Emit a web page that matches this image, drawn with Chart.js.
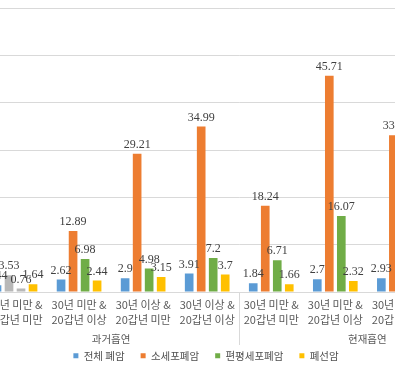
<!DOCTYPE html>
<html><head><meta charset="utf-8">
<script src="https://cdn.jsdelivr.net/npm/chart.js@4.4.1/dist/chart.umd.min.js"></script>
<style>
html,body{margin:0;padding:0;width:395px;height:367px;overflow:hidden;background:#fff;}
#wrap{position:absolute;left:-85px;top:0;width:582px;height:371px;}
</style></head><body>
<div id="wrap"><canvas id="c" width="582" height="371"></canvas></div>
<script>
const categories = [
  ["30년 미만 &", "20갑년 미만"],
  ["30년 미만 &", "20갑년 이상"],
  ["30년 이상 &", "20갑년 미만"],
  ["30년 이상 &", "20갑년 이상"],
  ["30년 미만 &", "20갑년 미만"],
  ["30년 미만 &", "20갑년 이상"],
  ["30년 이상 &", "20갑년 미만"],
  ["30년 이상 &", "20갑년 이상"]
];
const groups = ["과거흡연", "현재흡연"];
const groupSizes = [4, 4];
const seriesNames = ["전체 폐암", "소세포폐암", "편평세포폐암", "폐선암"];
const totalLung = [1.44, 2.62, 2.9, 3.91, 1.84, 2.7, 2.93, 3.6];
const smallCell = [3.53, 12.89, 29.21, 34.99, 18.24, 45.71, 33.1, 40.5];
const squamous = [0.76, 6.98, 4.98, 7.2, 6.71, 16.07, 11.6, 14.2];
const adeno = [1.64, 2.44, 3.15, 3.7, 1.66, 2.32, 3.1, 3.5];
const yTicks = [0, 10, 20, 30, 40, 50, 60];

const COLORS = ['#5B9BD5', '#ED7D31', '#70AD47', '#FFC000'];
const GREY = '#B8B8B8';
const KFONT = '"Noto Sans CJK KR", "Noto Sans", sans-serif';

const valueLabels = {
  id: 'valueLabels',
  afterDatasetsDraw(chart) {
    const ctx = chart.ctx;
    ctx.save();
    ctx.font = '12px "Liberation Serif", "DejaVu Serif", serif';
    ctx.fillStyle = '#404040';
    ctx.textAlign = 'center';
    ctx.textBaseline = 'bottom';
    chart.data.datasets.forEach((ds, i) => {
      chart.getDatasetMeta(i).data.forEach((bar, j) => {
        ctx.fillText(String(ds.data[j]), bar.x, bar.y - 3);
      });
    });
    ctx.restore();
  }
};

const groupAxis = {
  id: 'groupAxis',
  afterDraw(chart) {
    const ctx = chart.ctx, xs = chart.scales.x, area = chart.chartArea;
    const half = (xs.getPixelForValue(1) - xs.getPixelForValue(0)) / 2;
    ctx.save();
    ctx.strokeStyle = '#D9D9D9';
    ctx.lineWidth = 1;
    ctx.fillStyle = '#595959';
    ctx.font = '10.5px ' + KFONT;
    ctx.textAlign = 'center';
    ctx.textBaseline = 'middle';
    let start = 0;
    const seps = [];
    groups.forEach((g, gi) => {
      const end = start + groupSizes[gi] - 1;
      const cx = (xs.getPixelForValue(start) + xs.getPixelForValue(end)) / 2;
      ctx.fillText(g, cx, area.bottom + 47);
      seps.push(xs.getPixelForValue(start) - half);
      seps.push(xs.getPixelForValue(end) + half);
      start = end + 1;
    });
    [...new Set(seps.map(v => Math.round(v)))].forEach(x => {
      ctx.beginPath();
      ctx.moveTo(x + 0.5, area.bottom);
      ctx.lineTo(x + 0.5, area.bottom + 53);
      ctx.stroke();
    });
    ctx.restore();
  }
};

const greyFirst = base => c => (c.type === 'data' && c.dataIndex === 0) ? GREY : base;

new Chart(document.getElementById('c'), {
  type: 'bar',
  data: {
    labels: categories,
    datasets: [
      { label: seriesNames[0], data: totalLung, backgroundColor: COLORS[0] },
      { label: seriesNames[1], data: smallCell, backgroundColor: greyFirst(COLORS[1]) },
      { label: seriesNames[2], data: squamous, backgroundColor: greyFirst(COLORS[2]) },
      { label: seriesNames[3], data: adeno, backgroundColor: COLORS[3] }
    ]
  },
  options: {
    responsive: false,
    animation: false,
    devicePixelRatio: 1,
    layout: { padding: { top: 8, left: 0, right: 0, bottom: 0 } },
    datasets: { bar: { categoryPercentage: 0.75, barPercentage: 0.72 } },
    scales: {
      x: {
        grid: { display: false, drawTicks: false },
        border: { display: true, color: '#D9D9D9' },
        ticks: {
          autoSkip: false, maxRotation: 0, minRotation: 0, padding: 6,
          color: '#595959',
          font: { family: KFONT, size: 11, lineHeight: 1.3 }
        },
        afterFit(s) { s.height = 42.5; }
      },
      y: {
        min: yTicks[0], max: yTicks[yTicks.length - 1],
        afterBuildTicks(s) { s.ticks = yTicks.map(v => ({ value: v })); },
        grid: { color: '#D9D9D9', drawTicks: false },
        border: { display: false },
        ticks: { display: false },
        afterFit(s) { s.width = 68; s.paddingTop = 0; s.paddingBottom = 0; }
      }
    },
    plugins: {
      legend: {
        position: 'bottom',
        labels: {
          boxWidth: 5, boxHeight: 5, padding: 16, color: '#505050',
          font: { family: KFONT, size: 10.5 },
          generateLabels(chart) {
            const items = Chart.defaults.plugins.legend.labels.generateLabels(chart);
            items.forEach((it, i) => { it.fillStyle = COLORS[i]; it.strokeStyle = COLORS[i]; it.lineWidth = 0; });
            return items;
          }
        }
      },
      tooltip: { enabled: false }
    }
  },
  plugins: [valueLabels, groupAxis]
});
</script>
</body></html>
